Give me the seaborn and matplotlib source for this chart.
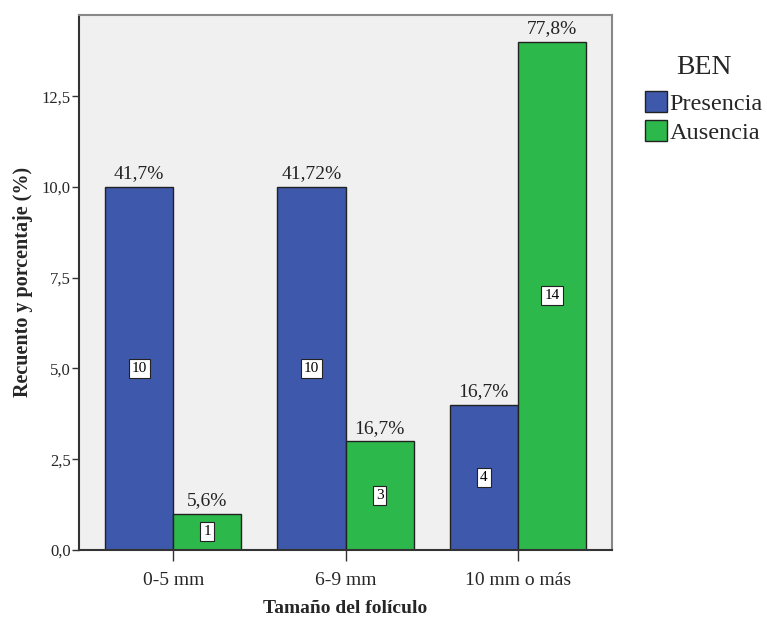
import numpy as np
import pandas as pd
import matplotlib
matplotlib.use('Agg')
import matplotlib.pyplot as plt
import seaborn as sns
from matplotlib.ticker import FixedLocator

# data
categories = ['0-5 mm', '6-9 mm', '10 mm o más']
groups = ['Presencia', 'Ausencia']
presencia = [10, 10, 4]
ausencia = [1, 3, 14]
pct_presencia = ['41,7%', '41,72%', '16,7%']
pct_ausencia = ['5,6%', '16,7%', '77,8%']
yticks = [0.0, 2.5, 5.0, 7.5, 10.0, 12.5]

df = pd.DataFrame({
    'cat': categories * 2,
    'grupo': [groups[0]] * 3 + [groups[1]] * 3,
    'n': presencia + ausencia,
    'pct': pct_presencia + pct_ausencia,
})

sns.set_style('white')
plt.rcParams['font.family'] = ['Liberation Serif', 'DejaVu Serif']

fig = plt.figure(figsize=(7.67, 6.19), dpi=100)
ax = fig.add_axes([0.103, 0.1115, 0.695, 0.8645])
ax.set_facecolor('#F0F0F0')

palette = {'Presencia': '#3E58AC', 'Ausencia': '#2DB84B'}
sns.barplot(data=df, x='cat', y='n', hue='grupo', order=categories,
            hue_order=groups, palette=palette, width=0.79, saturation=1,
            edgecolor='#222222', linewidth=1.0, ax=ax)

# labels on bars
for cont, grp in zip(ax.containers, groups):
    sub = df[df['grupo'] == grp].set_index('cat').loc[categories]
    for bar, (n, pct) in zip(cont, zip(sub['n'], sub['pct'])):
        cx = bar.get_x() + bar.get_width() / 2
        h = bar.get_height()
        ax.text(cx, h + 0.12, pct, ha='center', va='bottom', fontsize=14,
                color='#222222')
        ax.text(cx, h / 2, str(n), ha='center', va='center', fontsize=11,
                color='black',
                bbox=dict(boxstyle='square,pad=0.2', fc='white', ec='#222222', lw=0.8))

ax.set_ylim(0, 14.74)
ax.set_xlim(-0.547, 2.547)
ax.yaxis.set_major_locator(FixedLocator(yticks))
ax.set_yticklabels([f'{v:.1f}'.replace('.', ',') for v in yticks], fontsize=12)
ax.tick_params(axis='y', length=5, width=1, color='#333333', left=True, pad=1)
ax.tick_params(axis='x', length=8, width=1, color='#333333', bottom=True, labelsize=14, pad=8)

for s in ax.spines.values():
    s.set_color('#888888')
    s.set_linewidth(1.5)
ax.spines['left'].set_color('#333333')
ax.spines['bottom'].set_color('#333333')

ax.set_xlabel('Tamaño del folículo', fontsize=14, fontweight='bold', labelpad=8)
ax.set_ylabel('Recuento y porcentaje (%)', fontsize=14.5, fontweight='bold', labelpad=6)

leg = ax.legend(title='BEN', loc='upper left', bbox_to_anchor=(1.062, 0.925),
                frameon=False, fontsize=17.5, title_fontsize=20,
                handlelength=0.9, handleheight=0.95, handletextpad=0.1,
                labelspacing=0.2, borderaxespad=0, borderpad=0)
leg._legend_box.sep = 8
for h in leg.legend_handles:
    h.set_edgecolor('#222222')

fig.savefig('out.png', dpi=100)
